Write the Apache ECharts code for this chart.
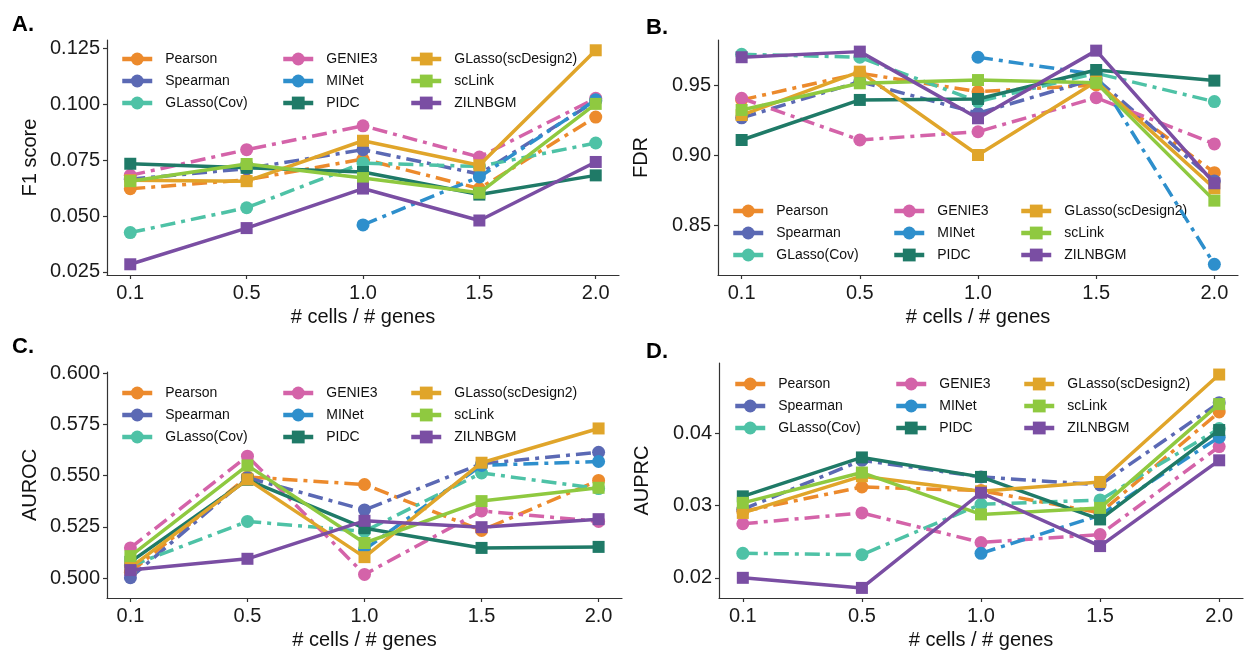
<!DOCTYPE html>
<html>
<head>
<meta charset="utf-8">
<script src="https://cdn.jsdelivr.net/npm/echarts@6/dist/echarts.min.js"></script>
<style>
html,body{margin:0;padding:0;background:#fff;}
#c{width:1246px;height:651px;}
</style>
</head>
<body>
<div id="c"></div>
<script>
// ---- data ----
const xLabels = ['0.1', '0.5', '1.0', '1.5', '2.0'];
const methods = ['Pearson', 'Spearman', 'GLasso(Cov)', 'GENIE3', 'MINet', 'PIDC', 'GLasso(scDesign2)', 'scLink', 'ZILNBGM'];

// rows follow `methods` order; null = not available
const f1Score = [
  [0.0622, 0.0662, 0.0755, 0.0623, 0.0943],
  [0.0665, 0.0712, 0.0797, 0.0688, 0.1015],
  [0.0426, 0.0537, 0.0737, 0.0722, 0.0827],
  [0.0682, 0.0797, 0.0904, 0.0764, 0.1027],
  [null, null, 0.0460, 0.0675, 0.1020],
  [0.0734, 0.0716, 0.0697, 0.0596, 0.0682],
  [0.0660, 0.0656, 0.0837, 0.0727, 0.1242],
  [0.0656, 0.0733, 0.0670, 0.0604, 0.1002],
  [0.0284, 0.0446, 0.0623, 0.0480, 0.0742]
];
const fdr = [
  [0.9398, 0.9589, 0.9457, 0.9505, 0.8879],
  [0.9270, 0.9529, 0.9303, 0.9550, 0.8820],
  [0.9724, 0.9703, 0.9386, 0.9589, 0.9386],
  [0.9410, 0.9112, 0.9171, 0.9414, 0.9084],
  [null, null, 0.9703, 0.9580, 0.8224],
  [0.9112, 0.9398, 0.9405, 0.9612, 0.9536],
  [0.9290, 0.9600, 0.9005, 0.9529, 0.8767],
  [0.9326, 0.9517, 0.9540, 0.9520, 0.8679],
  [0.9703, 0.9743, 0.9267, 0.9750, 0.8803]
];
const auroc = [
  [0.5030, 0.5494, 0.5457, 0.5233, 0.5477],
  [0.5003, 0.5490, 0.5333, 0.5558, 0.5614],
  [0.5060, 0.5277, 0.5229, 0.5513, 0.5437],
  [0.5148, 0.5595, 0.5019, 0.5328, 0.5277],
  [null, null, 0.5140, 0.5550, 0.5569],
  [0.5080, 0.5480, 0.5244, 0.5148, 0.5153],
  [0.5052, 0.5482, 0.5103, 0.5563, 0.5730],
  [0.5108, 0.5550, 0.5172, 0.5376, 0.5441],
  [0.5040, 0.5095, 0.5280, 0.5249, 0.5288]
];
const auprc = [
  [0.0292, 0.0326, 0.0321, 0.0290, 0.0430],
  [0.0295, 0.0363, 0.0340, 0.0329, 0.0443],
  [0.0234, 0.0232, 0.0302, 0.0308, 0.0407],
  [0.0275, 0.0290, 0.0249, 0.0260, 0.0382],
  [null, null, 0.0234, 0.0287, 0.0395],
  [0.0313, 0.0367, 0.0340, 0.0281, 0.0405],
  [0.0290, 0.0341, 0.0320, 0.0333, 0.0482],
  [0.0304, 0.0346, 0.0288, 0.0297, 0.0441],
  [0.0200, 0.0186, 0.0318, 0.0244, 0.0363]
];
const f1Ticks = [0.025, 0.050, 0.075, 0.100, 0.125];
const fdrTicks = [0.85, 0.90, 0.95];
const aurocTicks = [0.500, 0.525, 0.550, 0.575, 0.600];
const auprcTicks = [0.02, 0.03, 0.04];

// ---- styles ----
const colors = ['#EC8A2C', '#5B69B4', '#4EC2A6', '#D463A9', '#2E8FCC', '#1F7A67', '#E0A52A', '#8FC940', '#7A4EA3'];
const dashed = [true, true, true, true, true, false, false, false, false];
const FONT = '"Liberation Sans", Arial, Helvetica, sans-serif';

// plot boxes given as pixel edges x0,x1,y0,y1; legend column anchors = icon left / first row top
const panels = [
  {data: f1Score, ticks: f1Ticks, dec: 3, name: 'F1 score', min: 0.0236, max: 0.1288,
   box: [107, 619, 40, 275],
   legendCols: [[120, 51], [281, 51], [409, 51]]},
  {data: fdr, ticks: fdrTicks, dec: 2, name: 'FDR', min: 0.8148, max: 0.9826,
   box: [718, 1238, 40, 275],
   legendCols: [[731, 203], [892, 203], [1019, 203]]},
  {data: auroc, ticks: aurocTicks, dec: 3, name: 'AUROC', min: 0.4904, max: 0.6005,
   box: [107, 622, 372, 601],
   legendCols: [[120, 385], [281, 385], [409, 385]]},
  {data: auprc, ticks: auprcTicks, dec: 2, name: 'AUPRC', min: 0.0172, max: 0.0498,
   box: [719, 1243, 363, 601],
   legendCols: [[733, 376], [894, 376], [1022, 376]]}
];

const W = 1246, H = 651;
const grids = [], xAxes = [], yAxes = [], series = [], legends = [];
const axisLineStyle = {color: '#333', width: 1.2};

panels.forEach((p, pi) => {
  const b = p.box;
  grids.push({left: b[0], top: b[2], width: b[1] - b[0], height: b[3] - b[2]});
  xAxes.push({
    type: 'value', gridIndex: pi, min: -0.2, max: 4.2,
    name: '# cells / # genes', nameLocation: 'middle', nameGap: 32,
    nameTextStyle: {fontSize: 20, color: '#111', fontFamily: FONT},
    axisLine: {show: true, onZero: false, lineStyle: axisLineStyle},
    axisTick: {show: true, length: 4, lineStyle: axisLineStyle, customValues: [0, 1, 2, 3, 4]},
    axisLabel: {fontSize: 20, color: '#1a1a1a', fontFamily: FONT, margin: 8,
      customValues: [0, 1, 2, 3, 4], formatter: v => xLabels[Math.round(v)]},
    splitLine: {show: false}
  });
  yAxes.push({
    type: 'value', gridIndex: pi, min: p.min, max: p.max,
    name: p.name, nameLocation: 'middle', nameGap: 67,
    nameTextStyle: {fontSize: 20, color: '#111', fontFamily: FONT},
    axisLine: {show: true, onZero: false, lineStyle: axisLineStyle},
    axisTick: {show: true, length: 4, lineStyle: axisLineStyle, customValues: p.ticks},
    axisLabel: {fontSize: 20, color: '#1a1a1a', fontFamily: FONT, margin: 7,
      customValues: p.ticks, formatter: v => v.toFixed(p.dec)},
    splitLine: {show: false}
  });
  methods.forEach((m, mi) => {
    series.push({
      name: m, type: 'line', xAxisIndex: pi, yAxisIndex: pi,
      data: p.data[mi].map((v, i) => [i, v === null ? '-' : v]),
      symbol: dashed[mi] ? 'circle' : 'rect',
      symbolSize: dashed[mi] ? 13 : 12,
      showAllSymbol: true, connectNulls: false,
      color: colors[mi],
      itemStyle: {color: colors[mi], borderWidth: 0},
      lineStyle: {color: colors[mi], width: 3.5, type: dashed[mi] ? [15, 6, 4, 6] : 'solid', cap: 'butt'},
      emphasis: {disabled: true},
      animation: false, z: 2 + mi
    });
  });
  p.legendCols.forEach((c, ci) => {
    legends.push({
      orient: 'vertical', left: c[0], top: c[1], padding: 0,
      data: methods.slice(ci * 3, ci * 3 + 3),
      itemWidth: 30, itemHeight: 16, itemGap: 6,
      selectedMode: false,
      lineStyle: {type: 'solid', width: 4.5},
      textStyle: {fontSize: 14, color: '#111', fontFamily: FONT, padding: [0, 0, 0, 8], lineHeight: 16}
    });
  });
});

const labels = [['A.', 12, 14], ['B.', 646, 17], ['C.', 12, 336], ['D.', 646, 341]];
const graphics = labels.map(l => ({
  type: 'text', left: l[1], top: l[2],
  style: {text: l[0], font: 'bold 22px ' + FONT, fill: '#000'}
}));

const chart = echarts.init(document.getElementById('c'), null, {renderer: 'canvas', width: W, height: H});
chart.setOption({
  animation: false,
  backgroundColor: '#fff',
  textStyle: {fontFamily: FONT},
  grid: grids, xAxis: xAxes, yAxis: yAxes, series: series, legend: legends,
  graphic: graphics
});
</script>
</body>
</html>
